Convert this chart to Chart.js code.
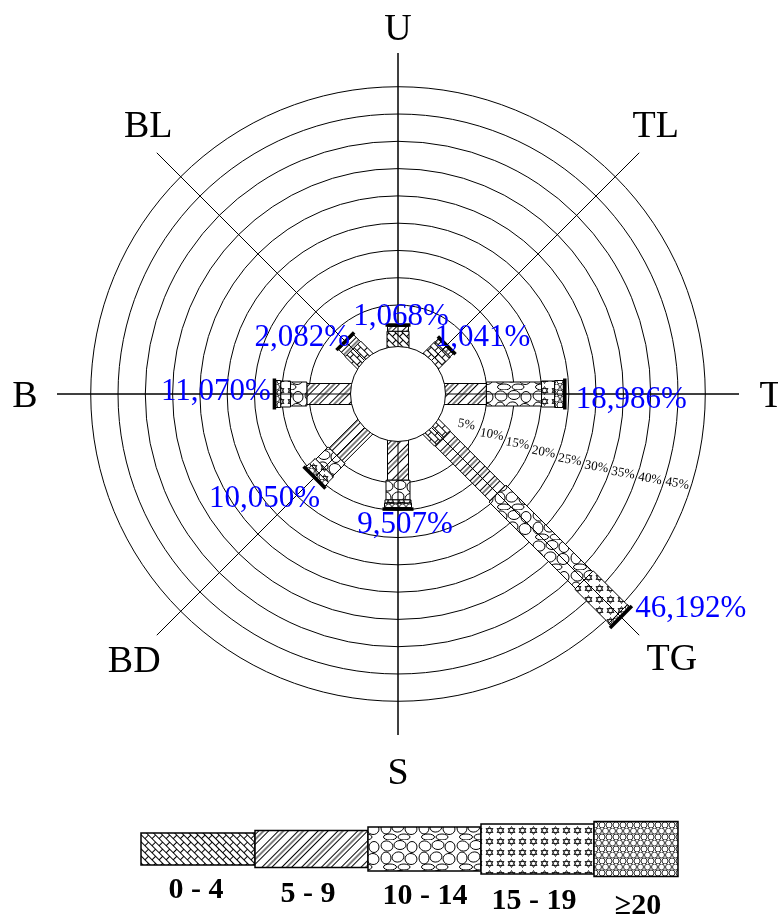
<!DOCTYPE html>
<html>
<head>
<meta charset="utf-8">
<script src="https://cdn.jsdelivr.net/npm/chart.js@4.4.1/dist/chart.umd.min.js"></script>
<style>
  html, body { margin: 0; padding: 0; background: #fff; }
  canvas { display: block; }
</style>
</head>
<body>
<canvas id="rose" width="778" height="916"></canvas>
<script>
// huong gio (clockwise from north) and speed classes
const directions = ['U', 'TL', 'T', 'TG', 'S', 'BD', 'B', 'BL'];
const speedClasses = ['0 - 4', '5 - 9', '10 - 14', '15 - 19', '≥20'];

// % frequency per class, same order as directions
const speed0to4   = [0.2,   0.3,   0,     0.2,   0,     0,    0,    0.4];
const speed5to9   = [0.868, 0.741, 4.9,   14.3,  4.5,   4.6,  5.4,  1.682];
const speed10to14 = [0,     0,     10.1,  22.4,  3.6,   3.2,  3.0,  0];
const speed15to19 = [0,     0,     2.4,   8.8,   0.6,   1.4,  1.8,  0];
const speed20up   = [0,     0,     1.586, 0.492, 0.807, 0.85, 0.87, 0];

const ringTicks = [5, 10, 15, 20, 25, 30, 35, 40, 45];

// scale layout
const radialMin = -11.3;   // rings are offset from the centre
const radialMax = 51.18;
const calmValue = -2.6;    // radius of the calm circle, in scale units

const barWidths = [22, 21, 24, 26, 27];
const labelNudge = [[3, -12], [37, -11], [68, 3], [71, -9], [7, 15], [-51, 20], [-60, -5], [-44, -7]];
const dirNudge = [[0, 6], [-6, -6], [0, 0], [10, 0], [0, 4], [0, 2], [0, 0], [14, -6]];
const serif = '"Liberation Serif", "Times New Roman", serif';

const canvas = document.getElementById('rose');
const ctx = canvas.getContext('2d');

function makePattern(w, h, draw, angle) {
  const c = document.createElement('canvas');
  c.width = w; c.height = h;
  const g = c.getContext('2d');
  g.fillStyle = '#fff';
  g.fillRect(0, 0, w, h);
  g.strokeStyle = '#000';
  g.fillStyle = '#000';
  g.lineWidth = 1;
  draw(g, w, h);
  const p = ctx.createPattern(c, 'repeat');
  if (angle) p.setTransform(new DOMMatrix().rotateSelf(angle));
  return p;
}

const patterns = [
  // 0-4 diagonal bricks
  makePattern(10, 10, g => {
    g.beginPath();
    g.moveTo(0, 0.5); g.lineTo(10, 0.5);
    g.moveTo(0, 5.5); g.lineTo(10, 5.5);
    g.moveTo(0.5, 0); g.lineTo(0.5, 5.5);
    g.moveTo(5.5, 5.5); g.lineTo(5.5, 10);
    g.stroke();
  }, 45),
  // 5-9 hatch
  makePattern(14, 4, g => {
    g.fillRect(0, 0, 1, 4);
    g.fillRect(3.5, 0, 1, 4);
    g.fillRect(7, 0, 1, 4);
  }, 45),
  // 10-14 pebbles
  makePattern(38, 30, g => {
    const pebbles = [[7, 6, 6, 5, 0.3], [20, 5, 6, 4.5, 0], [32, 7, 5, 5.5, 0], [6, 18, 5, 6, 0],
      [18, 17, 6, 5, -0.3], [31, 19, 6, 5.5, 0.2], [10, 27, 6.5, 3, 0], [24, 27, 6, 3, 0]];
    pebbles.forEach(([x, y, rx, ry, rot]) => {
      g.beginPath();
      g.ellipse(x, y, rx, ry, rot, 0, Math.PI * 2);
      g.stroke();
    });
  }),
  // 15-19 stars
  makePattern(11, 11, g => {
    g.lineWidth = 0.8;
    g.beginPath();
    g.moveTo(5.5, 1.5); g.lineTo(9, 7.5); g.lineTo(2, 7.5); g.closePath();
    g.moveTo(5.5, 9.5); g.lineTo(2, 3.5); g.lineTo(9, 3.5); g.closePath();
    g.stroke();
  }),
  // >=20 honeycomb
  makePattern(7, 12, g => {
    g.lineWidth = 0.8;
    [[3.5, 3], [0, 9], [7, 9]].forEach(([x, y]) => {
      g.beginPath();
      g.arc(x, y, 3, 0, Math.PI * 2);
      g.stroke();
    });
  })
];

// legend boxes below the rose
const legendX = [141, 255, 368, 481, 594];
const legendW = [114, 113, 113, 113, 84];
const legendH = [32, 37, 44, 50, 55];
const legendMidY = 849;
const legendTextX = [196, 308, 425, 534, 638];
const legendTextY = [887, 891, 893, 898, 903];

const rosePlugin = {
  id: 'rose',
  afterDatasetsDraw(chart) {
    const c = chart.ctx;
    const sc = chart.scales.r;
    const calmR = sc.getDistanceFromCenterForValue(calmValue);
    const outerR = sc.getDistanceFromCenterForValue(sc.max);
    c.save();

    directions.forEach((dir, i) => {
      const a = sc.getIndexAngle(i) - Math.PI / 2;
      const ux = Math.cos(a), uy = Math.sin(a);
      const pt = (d, s) => [sc.xCenter + ux * d - uy * s, sc.yCenter + uy * d + ux * s];
      let cum = 0, r0 = calmR - 3, lastW = barWidths[0];
      chart.data.datasets.forEach((ds, k) => {
        const v = ds.data[i];
        if (!v) return;
        cum += v;
        const r1 = sc.getDistanceFromCenterForValue(cum);
        const hw = barWidths[k] / 2;
        c.beginPath();
        c.moveTo(...pt(r0, -hw));
        c.lineTo(...pt(r1, -hw));
        c.lineTo(...pt(r1, hw));
        c.lineTo(...pt(r0, hw));
        c.closePath();
        c.fillStyle = patterns[k];
        c.fill();
        c.lineWidth = 1;
        c.strokeStyle = '#000';
        c.stroke();
        r0 = r1;
        lastW = barWidths[k];
      });
      // axis line through the bar
      c.beginPath();
      c.moveTo(...pt(calmR, 0));
      c.lineTo(...pt(outerR, 0));
      c.lineWidth = 1;
      c.stroke();
      // end cap
      const hc = lastW / 2 + 2;
      c.beginPath();
      c.moveTo(...pt(r0 + 1.5, -hc));
      c.lineTo(...pt(r0 + 1.5, hc));
      c.lineWidth = 3.5;
      c.stroke();

      // total label
      const end = pt(sc.getDistanceFromCenterForValue(cum), 0);
      c.font = '31px ' + serif;
      c.fillStyle = '#0000ff';
      c.textAlign = 'center';
      c.textBaseline = 'alphabetic';
      c.fillText(cum.toFixed(3).replace('.', ',') + '%', end[0] + labelNudge[i][0], end[1] + labelNudge[i][1] + 10.5);

      // direction name
      const lp = pt(outerR + 32, 0);
      c.font = '38px ' + serif;
      c.fillStyle = '#000';
      c.fillText(dir, lp[0] + dirNudge[i][0], lp[1] + dirNudge[i][1] + 12.5);
    });

    // calm circle
    c.beginPath();
    c.arc(sc.xCenter, sc.yCenter, calmR, 0, Math.PI * 2);
    c.fillStyle = '#fff';
    c.fill();
    c.lineWidth = 1;
    c.strokeStyle = '#000';
    c.stroke();

    // ring labels
    c.font = '13px ' + serif;
    c.fillStyle = '#000';
    c.textAlign = 'center';
    c.textBaseline = 'middle';
    ringTicks.forEach(v => {
      const d = sc.getDistanceFromCenterForValue(v) - 14;
      const th = (25 - 0.16 * v) * Math.PI / 180;
      c.save();
      c.translate(sc.xCenter + d * Math.cos(th), sc.yCenter + d * Math.sin(th));
      c.rotate(10 * Math.PI / 180);
      c.fillText(v + '%', 0, 0);
      c.restore();
    });

    // legend
    speedClasses.forEach((lab, k) => {
      const y = legendMidY - legendH[k] / 2;
      c.fillStyle = patterns[k];
      c.fillRect(legendX[k], y, legendW[k], legendH[k]);
      c.lineWidth = 1.5;
      c.strokeStyle = '#000';
      c.strokeRect(legendX[k], y, legendW[k], legendH[k]);
      c.font = 'bold 30px ' + serif;
      c.fillStyle = '#000';
      c.textBaseline = 'alphabetic';
      c.fillText(lab, legendTextX[k], legendTextY[k] + 10.5);
    });
    c.restore();
  }
};

new Chart(canvas, {
  type: 'radar',
  data: {
    labels: directions,
    datasets: [speed0to4, speed5to9, speed10to14, speed15to19, speed20up].map((vals, k) => ({
      label: speedClasses[k],
      data: vals,
      showLine: false,
      pointRadius: 0,
      pointHitRadius: 0,
      borderWidth: 0,
      backgroundColor: 'transparent'
    }))
  },
  options: {
    responsive: false,
    animation: false,
    events: [],
    devicePixelRatio: 1,
    layout: { padding: { left: 57, right: 39, top: 53, bottom: 181 } },
    plugins: { legend: { display: false }, tooltip: { enabled: false } },
    scales: {
      r: {
        min: radialMin,
        max: radialMax,
        grid: { circular: true, color: '#000', lineWidth: 1 },
        angleLines: { color: '#000', lineWidth: 1 },
        ticks: { display: false },
        pointLabels: { display: false },
        afterBuildTicks: axis => { axis.ticks = ringTicks.map(v => ({ value: v })); }
      }
    }
  },
  plugins: [rosePlugin]
});
</script>
</body>
</html>
